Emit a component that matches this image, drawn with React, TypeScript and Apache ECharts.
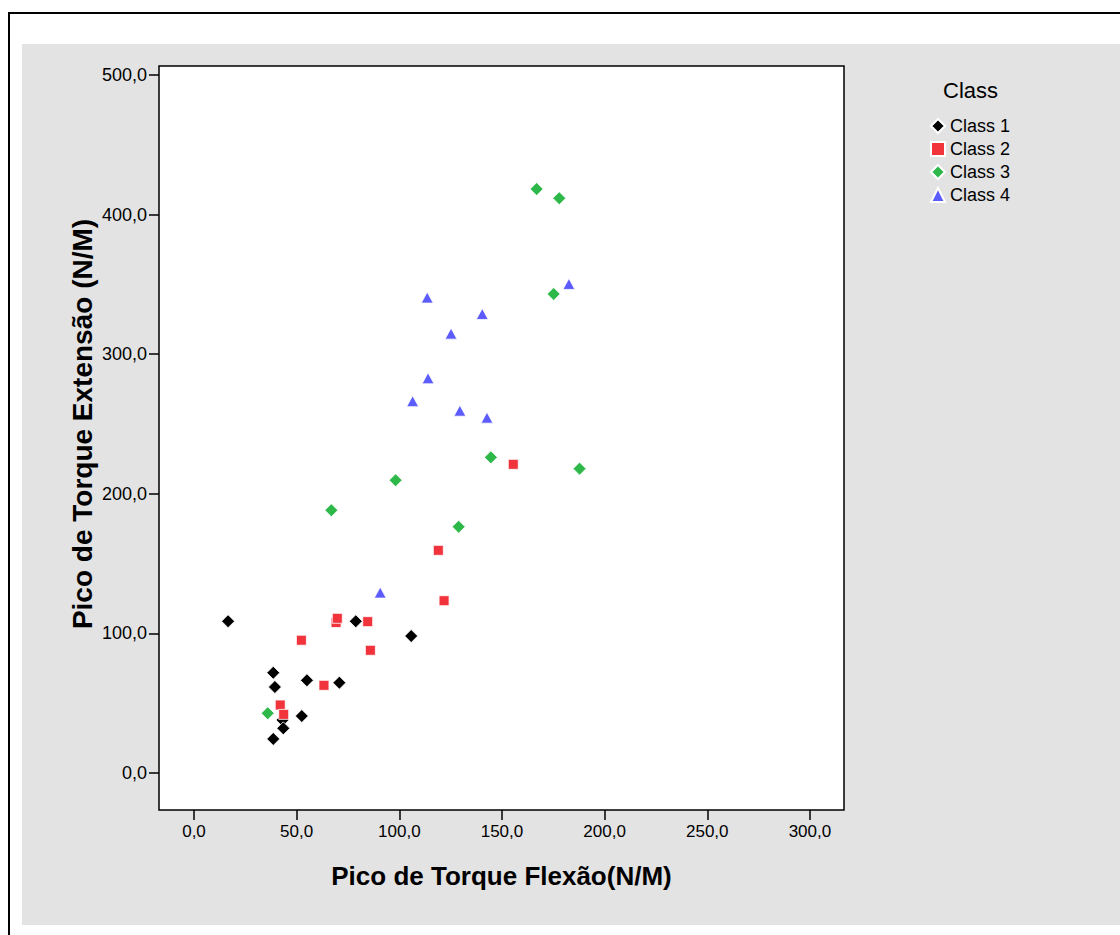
import React, { useEffect, useRef } from "react";
import * as echarts from "echarts";

const seriesNames = ["Class 1", "Class 2", "Class 3", "Class 4"];
const seriesColors = ["#000000", "#f1333c", "#2eb84a", "#5c5cfc"];
const seriesSymbols = ["diamond", "rect", "diamond", "triangle"];

const class1X = [16.6, 78.8, 105.8, 38.6, 39.4, 55.0, 70.8, 52.5, 43.1, 43.5, 38.6];
const class1Y = [108.7, 108.7, 98.1, 71.8, 61.6, 66.4, 64.7, 40.8, 38.0, 32.0, 24.4];

const class2X = [69.2, 69.8, 84.6, 121.8, 52.3, 85.9, 63.3, 42.0, 43.7, 119.0, 155.5];
const class2Y = [107.8, 110.8, 108.4, 123.4, 95.1, 87.9, 62.8, 48.7, 42.0, 159.5, 221.1];

const class3X = [166.9, 177.9, 175.2, 144.6, 187.8, 98.2, 66.9, 128.9, 35.9];
const class3Y = [418.3, 411.7, 343.1, 226.1, 218.0, 209.7, 188.2, 176.4, 42.8];

const class4X = [113.6, 140.4, 125.2, 182.6, 114.0, 106.5, 129.5, 142.7, 90.7];
const class4Y = [340.5, 328.8, 314.7, 350.3, 282.7, 266.3, 259.5, 254.5, 129.2];

const xTicks = [0, 50, 100, 150, 200, 250, 300];
const yTicks = [0, 100, 200, 300, 400, 500];

const xTitle = "Pico de Torque Flexão(N/M)";
const yTitle = "Pico de Torque Extensão (N/M)";
const legendTitle = "Class";

const FONT = "'Liberation Sans', Arial, sans-serif";

const fmt = (v: number) => v.toFixed(1).replace(".", ",");

export default function App() {
  const ref = useRef<HTMLDivElement>(null);

  useEffect(() => {
    if (!ref.current) return;
    const chart = echarts.init(ref.current, undefined, { renderer: "svg" });
    const xs = [class1X, class2X, class3X, class4X];
    const ys = [class1Y, class2Y, class3Y, class4Y];
    const sizes: any[] = [13, 10, 13, [12, 11]];

    const series = seriesNames.map((name, i) => ({
      name,
      type: "scatter",
      symbol: seriesSymbols[i],
      symbolSize: sizes[i],
      data: xs[i].map((x, j) => [x, ys[i][j]]),
      itemStyle: {
        color: seriesColors[i],
        borderColor: "#ffffff",
        borderWidth: 0.8,
        opacity: 1,
      },
      emphasis: { disabled: true },
    }));

    const axisCommon = {
      type: "value",
      splitLine: { show: false },
      axisLine: { show: false, onZero: false },
      axisTick: {
        show: true,
        inside: false,
        length: 10,
        lineStyle: { color: "#000", width: 1.5 },
      },
    };

    chart.setOption({
      animation: false,
      backgroundColor: "transparent",
      textStyle: { fontFamily: FONT },
      title: {
        text: legendTitle,
        left: 938,
        top: 74,
        textStyle: { fontFamily: FONT, fontSize: 22, fontWeight: "normal", color: "#000" },
      },
      legend: {
        orient: "vertical",
        left: 925,
        top: 112,
        itemWidth: 14,
        itemHeight: 14,
        itemGap: 5,
        data: seriesNames,
        textStyle: { fontFamily: FONT, fontSize: 18, color: "#000" },
      },
      grid: {
        left: 159,
        top: 66,
        width: 685,
        height: 744,
        show: true,
        backgroundColor: "#ffffff",
        borderColor: "#000000",
        borderWidth: 1.5,
      },
      xAxis: {
        ...axisCommon,
        min: -17.05,
        max: 316.6,
        axisTick: { ...axisCommon.axisTick, customValues: xTicks },
        axisLabel: {
          customValues: xTicks,
          formatter: fmt,
          fontFamily: FONT,
          fontSize: 17,
          color: "#000",
          margin: 13,
        },
        name: xTitle,
        nameLocation: "middle",
        nameGap: 53,
        nameTextStyle: { fontFamily: FONT, fontSize: 26, fontWeight: "bold", color: "#000" },
      },
      yAxis: {
        ...axisCommon,
        min: -26.5,
        max: 506.4,
        axisTick: { ...axisCommon.axisTick, customValues: yTicks },
        axisLabel: {
          customValues: yTicks,
          formatter: fmt,
          fontFamily: FONT,
          fontSize: 18,
          color: "#000",
          margin: 12,
        },
      },
      graphic: [
        {
          type: "text",
          x: 82,
          y: 424,
          rotation: Math.PI / 2,
          style: {
            text: yTitle,
            fontFamily: FONT,
            fontSize: 28,
            fontWeight: "bold",
            fill: "#000",
            align: "center",
            verticalAlign: "middle",
          },
        },
      ],
      series,
    });

    return () => chart.dispose();
  }, []);

  return (
    <div
      style={{
        position: "fixed",
        left: 0,
        top: 0,
        width: 1120,
        height: 935,
        background: "#ffffff",
        overflow: "hidden",
      }}
    >
      <div
        style={{
          position: "absolute",
          left: 8,
          top: 12,
          width: 1300,
          height: 1100,
          border: "2px solid #000",
          boxSizing: "border-box",
        }}
      />
      <div
        style={{
          position: "absolute",
          left: 22,
          top: 44,
          width: 1098,
          height: 881,
          background: "#e3e3e3",
        }}
      />
      <div
        ref={ref}
        style={{ position: "absolute", left: 0, top: 0, width: 1120, height: 935 }}
      />
    </div>
  );
}
